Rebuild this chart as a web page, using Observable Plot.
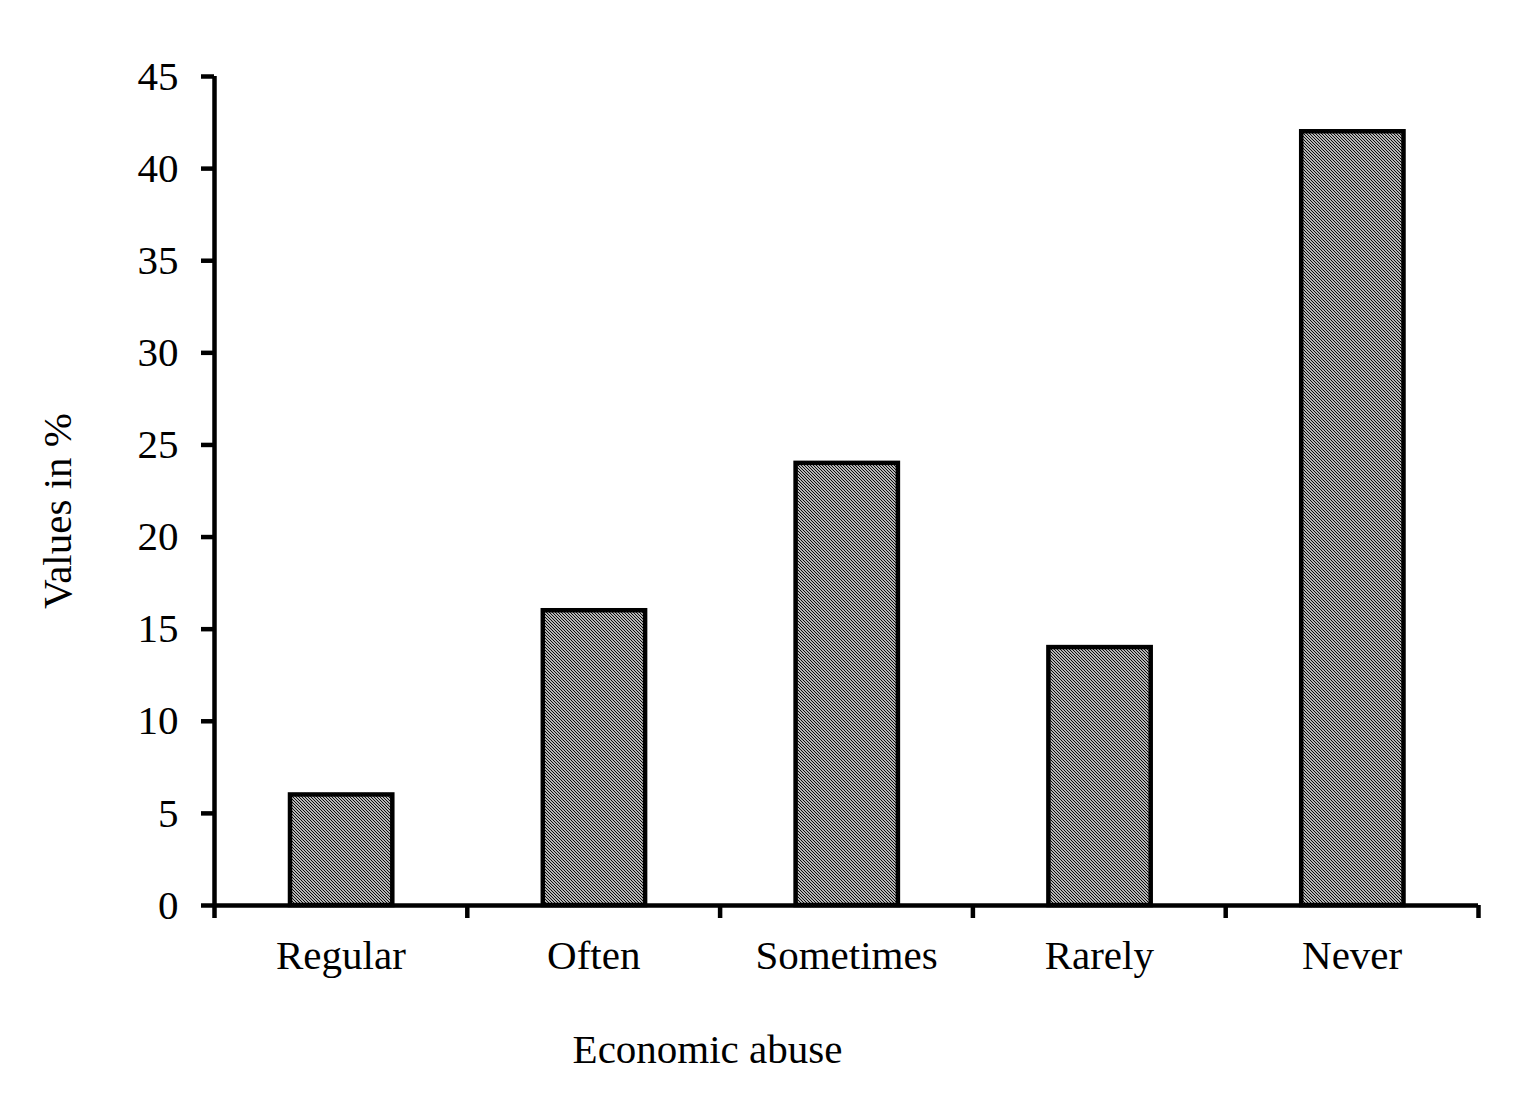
<!DOCTYPE html>
<html>
<head>
<meta charset="utf-8">
<script src="https://cdn.jsdelivr.net/npm/d3@7"></script>
<script src="https://cdn.jsdelivr.net/npm/@observablehq/plot@0.6"></script>
<style>
  html, body { margin: 0; padding: 0; background: #fff; }
</style>
</head>
<body>
<div id="chart"></div>
<script>
const categories = ["Regular", "Often", "Sometimes", "Rarely", "Never"];
const values = [6, 16, 24, 14, 42];
const yTicks = [0, 5, 10, 15, 20, 25, 30, 35, 40, 45];
const xTitle = "Economic abuse";
const yTitle = "Values in %";

const data = categories.map((c, i) => ({i, c, v: values[i]}));
const boundaries = d3.range(categories.length + 1);
const centers = categories.map((_, i) => i + 0.5);

const svg = Plot.plot({
  width: 1539,
  height: 1113,
  marginLeft: 214,
  marginRight: 61,
  marginTop: 76,
  marginBottom: 208,
  x: {type: "linear", domain: [0, categories.length]},
  y: {domain: [0, 45]},
  style: {fontFamily: "'Liberation Serif', 'Times New Roman', serif", fontSize: "41px", color: "black", background: "white"},
  marks: [
    Plot.rectY(data, {x1: d => d.i, x2: d => d.i + 1, y: "v", insetLeft: 76, insetRight: 74.5,
      fill: "url(#hatch)", stroke: "black", strokeWidth: 4.5}),
    Plot.axisY({ticks: yTicks, tickSize: 13, tickPadding: 23, strokeWidth: 4.5, label: null, fontSize: 41}),
    Plot.axisX({ticks: boundaries, tickSize: 13, tickFormat: () => "", strokeWidth: 4.5, label: null}),
    Plot.axisX({ticks: centers, tickSize: 0, tickPadding: 34, tickFormat: t => categories[Math.floor(t)], label: null, fontSize: 41}),
    Plot.ruleX([0], {strokeWidth: 4.5}),
    Plot.ruleY([0], {strokeWidth: 4.5}),
    Plot.text([xTitle], {frameAnchor: "bottom", dx: -139, dy: 144, lineAnchor: "middle", textAnchor: "middle", fontSize: 41, fill: "black"}),
    Plot.text([yTitle], {frameAnchor: "left", dx: -157, dy: 20, rotate: -90, lineAnchor: "middle", textAnchor: "middle", fontSize: 41, fill: "black"})
  ]
});

const defs = d3.select(svg).insert("defs", ":first-child");
const pat = defs.append("pattern")
  .attr("id", "hatch")
  .attr("patternUnits", "userSpaceOnUse")
  .attr("width", 3)
  .attr("height", 3);
pat.append("rect").attr("width", 3).attr("height", 3).attr("fill", "white");
pat.append("path")
  .attr("d", "M-1,2 L1,4 M0,0 L3,3 M2,-1 L4,1")
  .attr("stroke", "black")
  .attr("stroke-width", 1.1)
  .attr("fill", "none");

document.getElementById("chart").appendChild(svg);
</script>
</body>
</html>
